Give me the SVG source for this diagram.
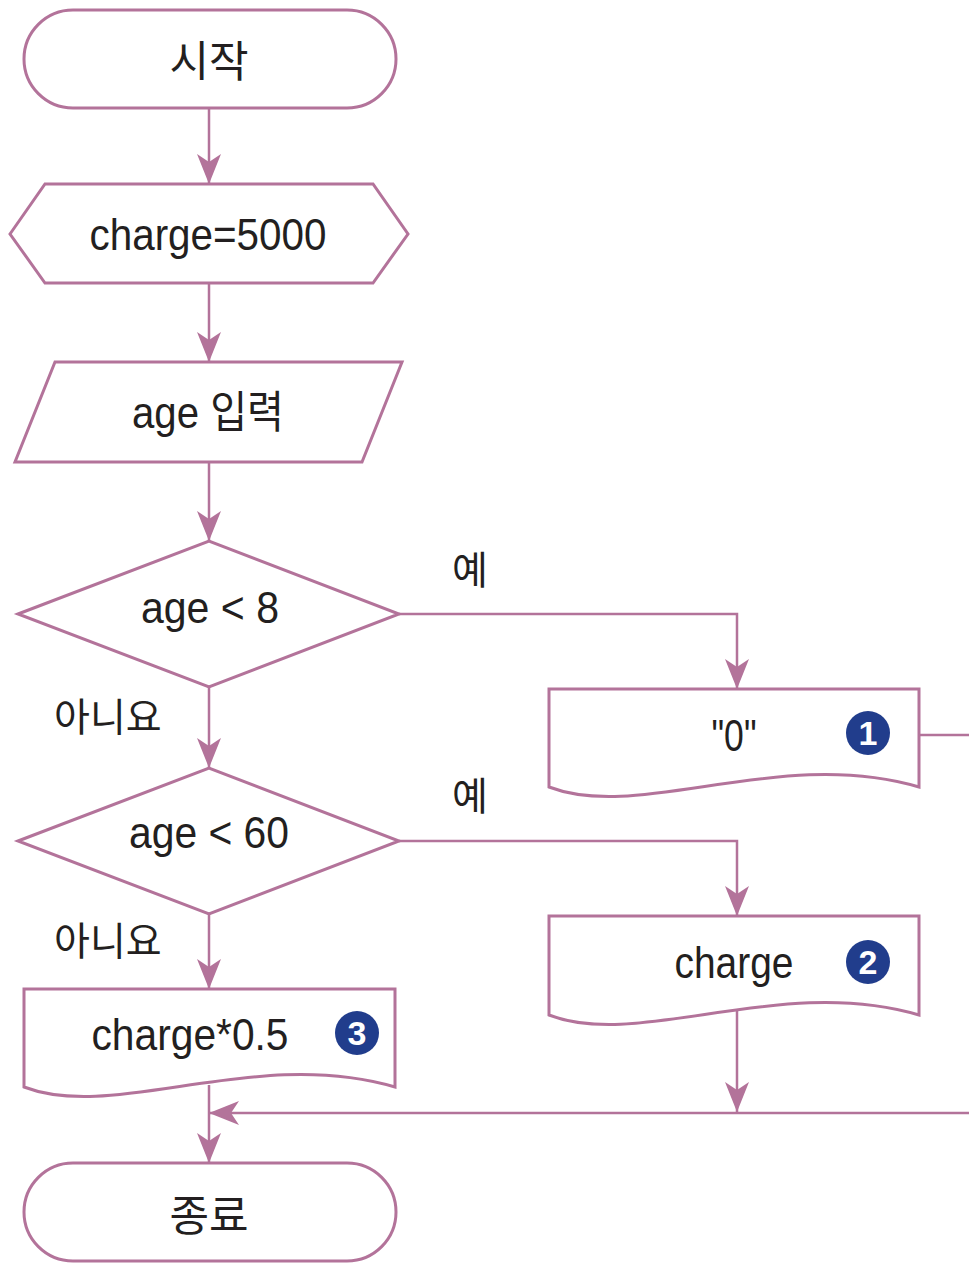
<svg xmlns="http://www.w3.org/2000/svg" width="969" height="1263" viewBox="0 0 969 1263">
<defs>
<style>
.shape{fill:#ffffff;stroke:#b3739a;stroke-width:3;stroke-linejoin:miter}
.conn{fill:none;stroke:#b3739a;stroke-width:2.5}
.lt{font-family:"Liberation Sans","Noto Sans CJK KR",sans-serif;font-size:44px;fill:#231f20;text-anchor:middle}
.kr{font-family:"Noto Sans CJK KR",sans-serif;font-size:43px;fill:#231f20;text-anchor:middle}
.lbl{font-family:"Noto Sans CJK KR",sans-serif;font-size:39px;fill:#231f20}
.badge{fill:#213d8c}
.bnum{font-family:"Liberation Sans",sans-serif;font-weight:bold;font-size:34px;fill:#ffffff;text-anchor:middle}
</style>
<marker id="ah" viewBox="0 0 30 24" refX="30" refY="12" markerWidth="30" markerHeight="24" markerUnits="userSpaceOnUse" orient="auto">
<path d="M0,0 L30,12 L0,24 L8,12 Z" fill="#b3739a"/>
</marker>
</defs>
<rect width="969" height="1263" fill="#ffffff"/>
<g id="connectors">
<path class="conn" d="M209,108 V184" marker-end="url(#ah)"/>
<path class="conn" d="M209,283 V362" marker-end="url(#ah)"/>
<path class="conn" d="M209,462 V541" marker-end="url(#ah)"/>
<path class="conn" d="M209,687 V768" marker-end="url(#ah)"/>
<path class="conn" d="M399,614 H737 V689" marker-end="url(#ah)"/>
<path class="conn" d="M399,841 H737 V916" marker-end="url(#ah)"/>
<path class="conn" d="M209,914 V989" marker-end="url(#ah)"/>
<path class="conn" d="M919,735 H969"/>
<path class="conn" d="M737,1005 V1112" marker-end="url(#ah)"/>
<path class="conn" d="M969,1113 H209" marker-end="url(#ah)"/>
<path class="conn" d="M209,1085 V1163" marker-end="url(#ah)"/>
<text class="lbl" x="470" y="584" text-anchor="middle">예</text>
<text class="lbl" x="54" y="731">아니요</text>
<text class="lbl" x="470" y="810" text-anchor="middle">예</text>
<text class="lbl" x="54" y="955">아니요</text>
</g>
<g id="start">
<rect class="shape" x="24" y="10" width="372" height="98" rx="49" ry="49"/>
<text class="kr" x="209" y="77">시작</text>
</g>
<g id="init">
<polygon class="shape" points="10,234 45,184 373,184 408,234 373,283 45,283"/>
<text class="lt" x="208" y="250" textLength="237" lengthAdjust="spacingAndGlyphs">charge=5000</text>
</g>
<g id="input">
<polygon class="shape" points="55,362 402,362 362,462 15,462"/>
<text class="lt" x="208" y="428" textLength="152" lengthAdjust="spacingAndGlyphs">age 입력</text>
</g>
<g id="cond1">
<polygon class="shape" points="18,614 209,541 399,614 209,687"/>
<text class="lt" x="210" y="623" textLength="138" lengthAdjust="spacingAndGlyphs">age &lt; 8</text>
</g>
<g id="cond2">
<polygon class="shape" points="18,841 209,768 399,841 209,914"/>
<text class="lt" x="209" y="848" textLength="160" lengthAdjust="spacingAndGlyphs">age &lt; 60</text>
</g>
<g id="out1">
<path class="shape" d="M549,689 H919 V787 C780,746 640,822 549,787 Z"/>
<text class="lt" x="734" y="751" textLength="45" lengthAdjust="spacingAndGlyphs">"0"</text>
<circle class="badge" cx="868" cy="733" r="22"/>
<text class="bnum" x="868" y="745">1</text>
</g>
<g id="out2">
<path class="shape" d="M549,916 H919 V1015 C780,974 640,1050 549,1015 Z"/>
<text class="lt" x="734" y="978" textLength="119" lengthAdjust="spacingAndGlyphs">charge</text>
<circle class="badge" cx="868" cy="962" r="22"/>
<text class="bnum" x="868" y="974">2</text>
</g>
<g id="out3">
<path class="shape" d="M24,989 H395 V1087 C255,1046 115,1122 24,1087 Z"/>
<text class="lt" x="190" y="1050" textLength="197" lengthAdjust="spacingAndGlyphs">charge*0.5</text>
<circle class="badge" cx="357" cy="1033" r="22"/>
<text class="bnum" x="357" y="1045">3</text>
</g>
<g id="end">
<rect class="shape" x="24" y="1163" width="372" height="98" rx="49" ry="49"/>
<text class="kr" x="209" y="1231">종료</text>
</g>
</svg>
